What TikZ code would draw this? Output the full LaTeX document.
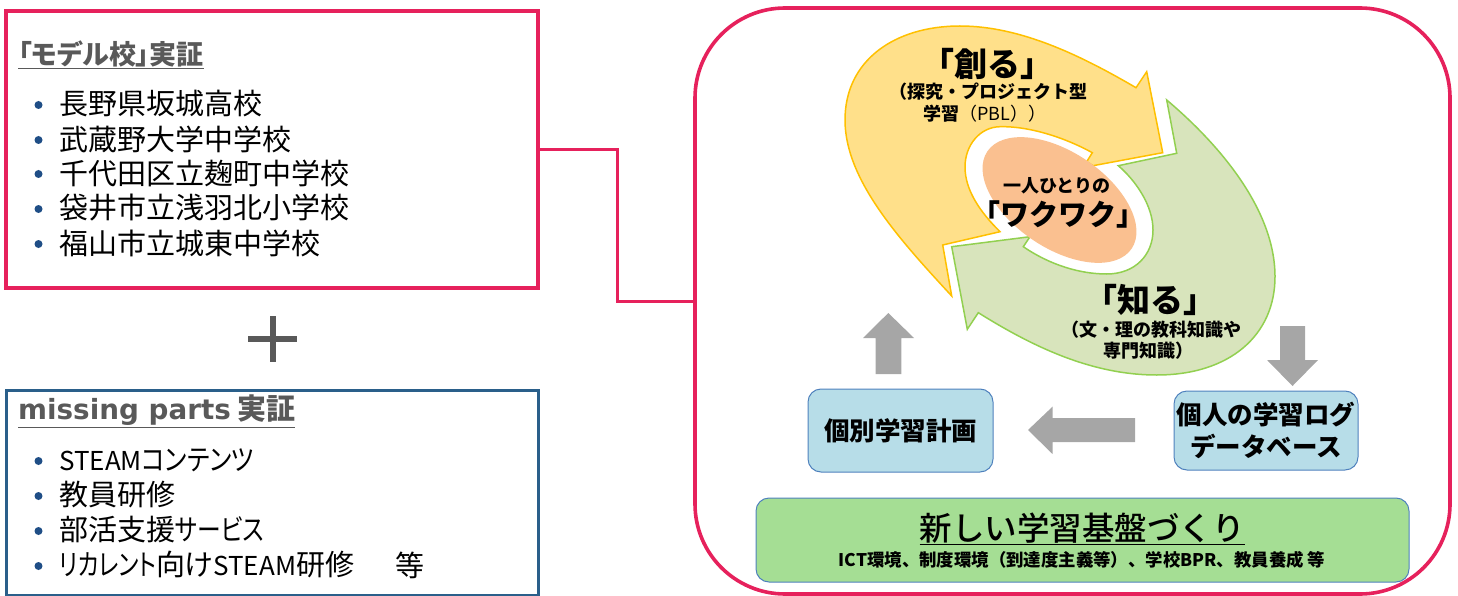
\documentclass[tikz,border=0pt]{standalone}
\usepackage{fontspec}
\setmainfont{Noto Sans CJK JP}
\newfontfamily\tightf[RawFeature=+palt]{Noto Sans CJK JP}
\newfontfamily\medf{Noto Sans CJK JP Medium}
\newfontfamily\widef{DejaVu Sans}
\newcommand{\stm}{{\fontsize{26}{26}\selectfont STEAM}}
\newcommand{\kn}[2]{\scalebox{#1}[1]{#2}}
\definecolor{crim}{HTML}{E6215C}
\definecolor{navy}{HTML}{2A5F8A}
\definecolor{txtgray}{HTML}{595959}
\definecolor{yelf}{HTML}{FFE08A}
\definecolor{yeld}{HTML}{FFC000}
\definecolor{grnf}{HTML}{D8E4BC}
\definecolor{grnd}{HTML}{92D050}
\definecolor{peach}{HTML}{FAC090}
\definecolor{arrgray}{HTML}{A6A6A6}
\definecolor{bluef}{HTML}{B7DDE8}
\definecolor{blued}{HTML}{4F81BD}
\definecolor{basef}{HTML}{A5DE94}
\definecolor{bul}{HTML}{1F4E86}
\tikzset{
  fs/.style={font=\fontsize{#1}{#1}\selectfont},
  fsb/.style={font=\fontsize{#1}{#1}\selectfont\bfseries},
  item/.style={anchor=west,inner sep=0pt,fs=29},
  itemt/.style={anchor=west,inner sep=0pt,font=\fontsize{29}{29}\selectfont\tightf},
  bdot/.style={circle,fill=bul,inner sep=0pt,minimum size=8pt},
  head/.style={anchor=west,inner sep=0pt,text=txtgray},
  lab/.style={inner sep=0pt,align=center},
  card/.style={draw=blued,line width=1pt,fill=bluef,rounded corners=13pt,inner sep=0pt},
  garrow/.style={fill=arrgray,draw=none},
  frame/.style={draw=crim,line width=3.2pt,inner sep=0pt},
}
\begin{document}
\begin{tikzpicture}[x=1pt,y=-1pt]
\useasboundingbox (0,0) rectangle (1458,596);
% frames
\node[frame,minimum width=532pt,minimum height=277pt] (modelbox) at (272,149.5) {};
\node[draw=navy,line width=3pt,inner sep=0pt,minimum width=532pt,minimum height=205pt] (partsbox) at (272,492.5) {};
\node[frame,line width=3.6pt,rounded corners=90pt,minimum width=755pt,minimum height=586pt] (bigbox) at (1072.5,301) {};
\draw[crim,line width=3pt] (modelbox.east) -- ++(78,0) |- (bigbox.west);
% plus
\draw[txtgray,line width=6pt] (248,339) -- (297,339);
\draw[txtgray,line width=6pt] (272.5,316) -- (272.5,362);
% left texts
\node[head,font=\fontsize{27}{27}\selectfont\bfseries\tightf] (h1) at (18,55) {\underline{「モデル校」実証}};
\foreach \n/\y/\t in {a/104/長野県坂城高校,b/139/武蔵野大学中学校,c/173/千代田区立麹町中学校,d/208/袋井市立浅羽北小学校,e/243/福山市立城東中学校}{
  \node[bdot] (dot\n) at (38.5,\y+1) {};
  \node[item] (it\n) at (59,\y) {\t};
}
\node[head,font=\fontsize{27.8}{28}\selectfont\bfseries] (h2) at (18,411) {\underline{{\widef missing parts} {\fontsize{29}{29}\selectfont 実証}}};
\foreach \n/\y/\t in {f/460/\stm\kn{.85}{コンテンツ},g/495/教員研修,h/530/部活支援\kn{.82}{サービス},i/565/\kn{.78}{リカレント}向け\stm 研修}{
  \node[bdot] (dot\n) at (38.5,\y+1) {};
  \node[itemt] (it\n) at (59,\y) {\t};
}
\node[itemt] (ito) at (395,565) {等};
% cycle
\path[fill=yelf,draw=yeld,line width=1.5pt,line join=miter]
 (951.7,296) .. controls (900,240) and (845,180) .. (845,120)
 .. controls (845,60) and (895,26) .. (960,26)
 .. controls (1020,26) and (1080,55) .. (1136,87.7)
 -- (1146.7,71.7) -- (1162.7,152.7) -- (1093,165.7) -- (1086.7,161.7) -- (1092.3,152.7)
 .. controls (1060,135) and (1025,126) .. (1000,126.7)
 .. controls (980,127) and (965,145) .. (965,167)
 .. controls (965,190) and (980,212) .. (1000,231.7)
 -- (942.7,245) -- cycle;
\path[fill=grnf,draw=grnd,line width=1.5pt,line join=miter]
 (1166.7,100) .. controls (1220,145) and (1275,210) .. (1275,276.7)
 .. controls (1275,335) and (1230,375) .. (1156.7,375)
 .. controls (1090,375) and (1030,345) .. (978.3,312.7)
 -- (967.3,329.3) -- (951.7,246.7) -- (1030,236.7) -- (1023.3,246.7)
 .. controls (1050,265) and (1080,274) .. (1106.7,274)
 .. controls (1135,274) and (1153,255) .. (1153,230)
 .. controls (1153,205) and (1135,180) .. (1118.3,165.7)
 -- (1176.7,153.3) -- cycle;
\fill[peach,rotate around={-34:(1059.5,200)}] (1059.5,200) ellipse [x radius=87,y radius=48];
% gray arrows
\fill[garrow] (888.3,313) -- (914,338) -- (901.3,338) -- (901.3,374) -- (875.7,374) -- (875.7,338) -- (863,338) -- cycle;
\fill[garrow] (1292.5,386) -- (1267,360) -- (1280,360) -- (1280,326) -- (1305,326) -- (1305,360) -- (1318,360) -- cycle;
\fill[garrow] (1028,430) -- (1052.5,406.7) -- (1052.5,418) -- (1135,418) -- (1135,442) -- (1052.5,442) -- (1052.5,454) -- cycle;
% cycle labels
\node[lab,fsb=33] (tsukuru) at (987,64) {「創る」};
\node[lab,fsb=18] (tsub1) at (988,92) {（探究・プロジェクト型};
\node[lab,fsb=18] (tsub2) at (985,114) {学習{\mdseries（PBL））}};
\node[lab,fsb=18] (waku1) at (1057,186) {一人ひとりの};
\node[lab,fsb=29] (waku2) at (1058,214) {「ワクワク」};
\node[lab,fsb=33] (shiru) at (1150,300) {「知る」};
\node[lab,fsb=18] (ssub1) at (1151,330) {（文・理の教科知識や};
\node[lab,fsb=18] (ssub2) at (1148,351) {専門知識）};
% cards
\node[card,minimum width=185pt,minimum height=83pt,fsb=25.5] (plan) at (900.5,430.5) {個別学習計画};
\node[card,minimum width=184pt,minimum height=79pt,fsb=25.5,align=center] (logdb) at (1266,430.5) {};
\node[lab,fsb=25.5] (log1) at (1266,415) {個人の学習ログ};
\node[lab,fsb=25.5] (log2) at (1266,446) {データベース};
\node[draw=blued,line width=1pt,fill=basef,rounded corners=13pt,inner sep=0pt,minimum width=653pt,minimum height=84pt] (base) at (1082.5,540) {};
\node[lab,font=\fontsize{32.5}{32.5}\selectfont\medf] (base1) at (1082,529) {\underline{新しい学習基盤づくり}};
\node[lab,fsb=17.4] (base2) at (1082,560) {ICT環境、制度環境（到達度主義等）、学校BPR、教員養成 等};
\end{tikzpicture}
\end{document}
